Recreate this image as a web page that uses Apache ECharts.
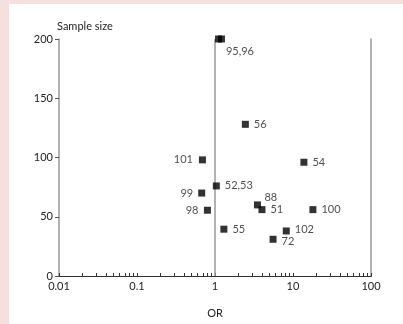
<!DOCTYPE html>
<html>
<head>
<meta charset="utf-8">
<script src="https://cdn.jsdelivr.net/npm/echarts@6/dist/echarts.min.js"></script>
<style>
html,body{margin:0;padding:0;background:#f6dfdf;}
#wrap{position:absolute;left:9px;top:4px;right:0;bottom:0;background:#fff;}
#chart{position:absolute;left:0;top:0;width:403px;height:324px;}
</style>
</head>
<body>
<div id="wrap"></div>
<div id="chart"></div>
<script>
// ---- data ----
var studyLabels = ['95', '95,96', '56', '101', '54', '52,53', '99', '88', '51', '98', '100', '55', '102', '72'];
var oddsRatios  = [1.11, 1.21, 2.45, 0.69, 13.8, 1.04, 0.675, 3.5, 4.0, 0.80, 18.0, 1.30, 8.2, 5.55];
var sampleSizes = [200, 200, 128, 98, 96, 76, 70, 60, 56, 55.5, 56, 39.5, 38, 31];
var xTickLabels = [0.01, 0.1, 1, 10, 100];
var yTickLabels = [0, 50, 100, 150, 200];

// ---- style helpers ----
var FONT = 'Lato';
var labelStyle = {
  '95':    { show: false },
  '95,96': { position: 'right', offset: [1, 12], distance: 0 },
  '101':   { position: 'left', distance: 6 },
  '99':    { position: 'left', distance: 5 },
  '98':    { position: 'left', distance: 5.5 },
  '88':    { position: 'right', distance: 3.5, offset: [0, -7] },
  '102':   { position: 'right', distance: 5, offset: [0, -2] },
  '72':    { position: 'right', distance: 5, offset: [0, 2] }
};
var minorTicks = [];
for (var d = -2; d < 2; d++) {
  for (var m = 1; m <= 9; m++) minorTicks.push(m * Math.pow(10, d));
}
minorTicks.push(100);

var points = oddsRatios.map(function (x, i) {
  var lab = studyLabels[i];
  var ls = Object.assign({ show: true, position: 'right', distance: 5, formatter: lab }, labelStyle[lab] || {});
  return { value: [x, sampleSizes[i]], label: ls };
});

var chart = echarts.init(document.getElementById('chart'), null, { renderer: 'canvas' });
chart.setOption({
  backgroundColor: 'transparent',
  animation: false,
  textStyle: { fontFamily: FONT },
  grid: { left: 59, right: 32, top: 39, bottom: 48 },
  xAxis: [{
    type: 'log', logBase: 10, min: 0.01, max: 100,
    name: 'OR', nameLocation: 'middle', nameGap: 32,
    nameTextStyle: { fontFamily: FONT, fontSize: 11, color: '#222' },
    axisLine: { lineStyle: { color: '#333', width: 1 } },
    axisTick: { show: true, inside: true, length: 3, customValues: minorTicks, lineStyle: { color: '#333' } },
    axisLabel: {
      fontFamily: FONT, fontSize: 11, color: '#222', margin: 5,
      customValues: xTickLabels,
      formatter: function (v) { return String(v); }
    },
    splitLine: { show: false }
  }, {
    type: 'log', logBase: 10, min: 0.01, max: 100, position: 'top',
    axisLine: { lineStyle: { color: '#333', width: 1 } },
    axisTick: { show: false }, axisLabel: { show: false }, splitLine: { show: false }
  }],
  yAxis: [{
    type: 'value', min: 0, max: 200, interval: 50,
    name: 'Sample size', nameLocation: 'end', nameGap: 7,
    nameTextStyle: { fontFamily: FONT, fontSize: 11, color: '#222', align: 'left', padding: [0, 0, 0, -2] },
    axisLine: { show: true, lineStyle: { color: '#999', width: 1.5 } },
    axisTick: { show: true, inside: false, length: 4, lineStyle: { color: '#555' } },
    axisLabel: {
      fontFamily: FONT, fontSize: 11, color: '#222', margin: 6,
      customValues: yTickLabels
    },
    splitLine: { show: false }
  }, {
    type: 'value', min: 0, max: 200, position: 'right',
    axisLine: { show: true, lineStyle: { color: '#999', width: 1.5 } },
    axisTick: { show: false }, axisLabel: { show: false }, splitLine: { show: false }
  }],
  series: [{
    type: 'scatter',
    xAxisIndex: 0, yAxisIndex: 0,
    symbol: 'rect', symbolSize: 7,
    itemStyle: { color: '#000' },
    label: { fontFamily: FONT, fontSize: 11, color: '#222' },
    data: points,
    markLine: {
      silent: true, symbol: 'none', label: { show: false },
      lineStyle: { color: '#999', width: 1.5, type: 'solid' },
      data: [{ xAxis: 1 }]
    },
    z: 5
  }]
});
</script>
</body>
</html>
